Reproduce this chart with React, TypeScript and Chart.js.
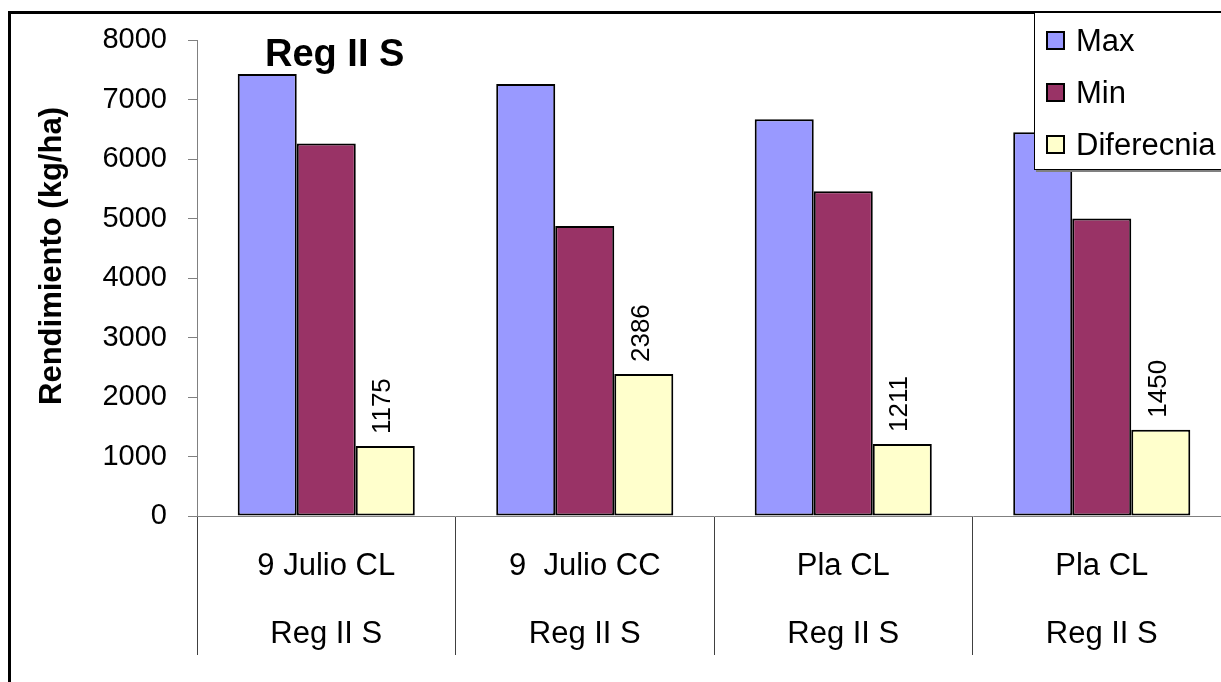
import React, { useEffect, useRef } from "react";
import { Chart, registerables } from "chart.js";

Chart.register(...registerables);

const FONT = '"Liberation Sans", Arial, Helvetica, sans-serif';

const categories: string[][] = [
  ["9 Julio CL", "Reg II S"],
  ["9  Julio CC", "Reg II S"],
  ["Pla CL", "Reg II S"],
  ["Pla CL", "Reg II S"],
];
const maxValues = [7430, 7260, 6670, 6450];
const minValues = [6260, 4874, 5460, 5000];
const diffValues = [1175, 2386, 1211, 1450];
const seriesNames = ["Max", "Min", "Diferecnia"];
const seriesColors = ["#9999FF", "#993366", "#FFFFCC"];
const yMin = 0;
const yMax = 8000;
const yStep = 1000;
const chartTitle = "Reg II S";
const yTitle = "Rendimiento (kg/ha)";

const overlay = {
  id: "overlay",
  afterDraw(chart: any) {
    const ctx: CanvasRenderingContext2D = chart.ctx;
    const area = chart.chartArea;
    ctx.save();
    // outer frame
    ctx.strokeStyle = "#000";
    ctx.lineWidth = 3;
    ctx.beginPath();
    ctx.moveTo(9.5, chart.height + 5);
    ctx.lineTo(9.5, 12.5);
    ctx.lineTo(chart.width + 5, 12.5);
    ctx.stroke();

    // title
    ctx.fillStyle = "#000";
    ctx.font = `bold 38px ${FONT}`;
    ctx.textAlign = "left";
    ctx.textBaseline = "alphabetic";
    ctx.fillText(chartTitle, area.left + 68, 66);

    // y axis title
    ctx.save();
    ctx.translate(52, 256);
    ctx.rotate(-Math.PI / 2);
    ctx.font = `bold 31px ${FONT}`;
    ctx.textAlign = "center";
    ctx.textBaseline = "middle";
    ctx.fillText(yTitle, 0, 0);
    ctx.restore();

    // data labels on the difference series
    const meta = chart.getDatasetMeta(2);
    ctx.font = `26px ${FONT}`;
    meta.data.forEach((bar: any, i: number) => {
      ctx.save();
      ctx.translate(bar.x - 2, bar.y - 12);
      ctx.rotate(-Math.PI / 2);
      ctx.textAlign = "left";
      ctx.textBaseline = "middle";
      ctx.fillText(String(chart.data.datasets[2].data[i]), 0, 0);
      ctx.restore();
    });

    // legend
    const lx = 1034;
    const ly = 12;
    const lw = 210;
    const lh = 157;
    ctx.fillStyle = "#808080";
    ctx.fillRect(lx + 2, ly + 2, lw, lh + 1);
    ctx.fillStyle = "#fff";
    ctx.fillRect(lx, ly, lw, lh);
    ctx.strokeStyle = "#000";
    ctx.lineWidth = 1;
    ctx.strokeRect(lx + 0.5, ly + 0.5, lw, lh);
    chart.data.datasets.forEach((ds: any, i: number) => {
      const cy = 41 + i * 52;
      ctx.fillStyle = ds.backgroundColor;
      ctx.fillRect(1047, cy - 9, 17, 17);
      ctx.strokeStyle = "#000";
      ctx.lineWidth = 2;
      ctx.strokeRect(1047, cy - 9, 17, 17);
      ctx.fillStyle = "#000";
      ctx.font = `31px ${FONT}`;
      ctx.textAlign = "left";
      ctx.textBaseline = "middle";
      ctx.fillText(ds.label, 1076, cy + 1);
    });
    ctx.restore();
  },
};

export default function App() {
  const ref = useRef<HTMLCanvasElement | null>(null);
  useEffect(() => {
    if (!ref.current) return;
    const seriesData = [maxValues, minValues, diffValues];
    const chart = new Chart(ref.current, {
      type: "bar",
      data: {
        labels: categories,
        datasets: seriesNames.map((name, i) => ({
          label: name,
          data: seriesData[i],
          backgroundColor: seriesColors[i],
          borderColor: "#000",
          borderWidth: 2,
          borderSkipped: false,
          barPercentage: 1,
          categoryPercentage: 0.685,
        })),
      },
      options: {
        responsive: false,
        devicePixelRatio: 1,
        animation: false,
        layout: { padding: { left: 0, top: 40, right: 9, bottom: 0 } },
        plugins: {
          legend: { display: false },
          tooltip: { enabled: false },
          title: { display: false },
        },
        scales: {
          x: {
            type: "category",
            grid: {
              offset: true,
              drawOnChartArea: false,
              drawTicks: true,
              tickLength: 139,
              color: "#404040",
              lineWidth: 1,
            },
            border: { display: true, color: "#808080", width: 1 },
            ticks: {
              autoSkip: false,
              maxRotation: 0,
              minRotation: 0,
              color: "#000",
              font: { family: FONT, size: 31, lineHeight: 2.2 },
              padding: -123,
            },
            afterFit: (scale: any) => {
              scale.height = 166;
            },
          },
          y: {
            min: yMin,
            max: yMax,
            grid: {
              drawOnChartArea: false,
              drawTicks: true,
              tickLength: 9,
              color: "#808080",
            },
            border: { display: true, color: "#808080", width: 1 },
            ticks: {
              stepSize: yStep,
              color: "#000",
              font: { family: FONT, size: 29 },
              padding: 21,
              callback: (v: any) => String(v),
            },
            afterFit: (scale: any) => {
              scale.width = 197;
            },
          },
        },
      },
      plugins: [overlay],
    } as any);
    return () => chart.destroy();
  }, []);

  return (
    <div
      style={{
        position: "fixed",
        left: 0,
        top: 0,
        width: 1221,
        height: 682,
        overflow: "hidden",
        background: "#fff",
      }}
    >
      <canvas ref={ref} width={1240} height={682} style={{ display: "block" }} />
    </div>
  );
}
